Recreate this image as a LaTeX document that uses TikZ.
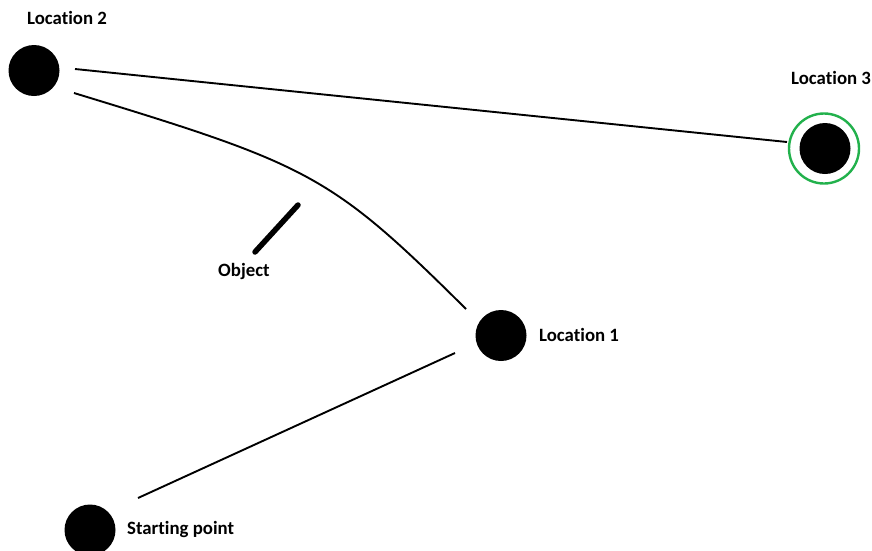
\documentclass[tikz,border=0pt]{standalone}
\usepackage{fontspec}
\setmainfont[Ligatures=NoCommon]{Carlito}
\begin{document}
\begin{tikzpicture}[x=1pt,y=-1pt,
  spot/.style={circle,fill=black,inner sep=0pt,minimum size=51pt},
  ring/.style={circle,draw=paintgreen,line width=2.4pt,inner sep=0pt,minimum size=70pt},
  lbl/.style={font=\bfseries\fontsize{18.8}{22}\selectfont,anchor=base west,inner sep=0pt},
  path/.style={line width=1.9pt},
  obstacle/.style={line width=5.5pt,line cap=round}]
\definecolor{paintgreen}{HTML}{22B14C}
\useasboundingbox (0,0) rectangle (872,550);
% locations
\node[spot] (loc2) at (34,70.5) {};
\node[spot] (loc3) at (825,148.5) {};
\node[ring] (goal) at (824,148.5) {};
\node[spot] (loc1) at (501,335.5) {};
\node[spot] (start) at (90,530) {};
% labels
\node[lbl] (t2) at (27,24.5) {Location 2};
\node[lbl] (t3) at (791,84) {Location 3};
\node[lbl] (t1) at (539,341.5) {Location 1};
\node[lbl] (ts) at (127,534) {Starting point};
\node[lbl] (to) at (218,276) {Object};
% route end points, just clear of the spots
\coordinate (s1) at (138,498);
\coordinate (a1) at (455,353);
\coordinate (b1) at (466,309);
\coordinate (b2) at (74,93);
\coordinate (c2) at (75,69);
\coordinate (c3) at (787,142);
% routes
\draw[path] (s1) -- (a1);
\draw[path] (b1) .. controls (330,174) and (310,165) .. (b2);
\draw[path] (c2) -- (c3);
% obstacle
\coordinate (o1) at (298,205);
\coordinate (o2) at (255,252);
\draw[obstacle] (o1) -- (o2);
\end{tikzpicture}
\end{document}
